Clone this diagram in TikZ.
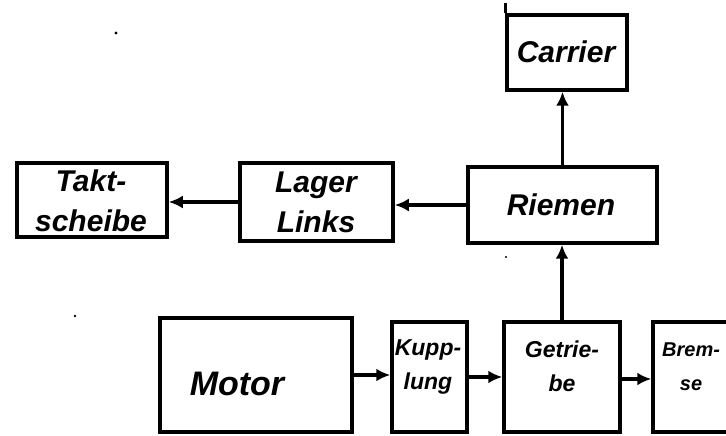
\documentclass[tikz,border=0pt]{standalone}
\usepackage{fontspec}
\setmainfont{Liberation Sans}
\usetikzlibrary{arrows.meta}
\begin{document}
\begin{tikzpicture}[x=1pt,y=1pt,
  box/.style={draw, line width=3.5pt, inner sep=0pt},
  arr/.style={line width=3.5pt, -{Latex[length=14pt,width=13pt]}},
  big/.style={font=\bfseries\itshape\fontsize{30}{40}\selectfont, align=center, inner sep=0pt},
  small/.style={font=\bfseries\itshape\fontsize{23}{34}\selectfont, align=center, inner sep=0pt}]
\useasboundingbox (0,0) rectangle (726,436);
\clip (0,0) rectangle (726,436);
\fill[white] (0,0) rectangle (726,436);
% boxes
\node[box, minimum width=120pt, minimum height=75pt] (carrier) at (567,383.5) {};
\node[box, minimum width=189pt, minimum height=76pt] (riemen) at (562.5,231) {};
\node[box, minimum width=153pt, minimum height=78pt] (lager) at (316.5,234) {};
\node[box, minimum width=150pt, minimum height=74pt] (takt) at (92,236) {};
\node[box, minimum width=192pt, minimum height=114pt] (motor) at (256,61) {};
\node[box, minimum width=75pt, minimum height=110pt] (kupp) at (429.5,59) {};
\node[box, minimum width=116pt, minimum height=110pt] (getr) at (562,59) {};
\node[box, minimum width=120pt, minimum height=110pt] (brem) at (713,59) {};
% labels
\node[big] (tcarrier) at (566,384) {Carrier};
\node[big] (triemen) at (561,231) {Riemen};
\node[big] (tlager) at (316,234) {Lager\\Links};
\node[big] (ttakt) at (91,235) {Takt-\\scheibe};
\node[big, font=\bfseries\itshape\fontsize{34}{40}\selectfont] (tmotor) at (237,52) {Motor};
\node[small] (tkupp) at (428,69) {Kupp-\\lung};
\node[small] (tgetr) at (562,70) {Getrie-\\be};
\node[small, font=\bfseries\itshape\fontsize{20}{34}\selectfont, anchor=west] (tbrem) at (662,69) {Brem-\\se};
% connectors
\draw[arr] (motor.east) -- (motor.east -| kupp.west);
\draw[arr] (kupp.east) -- (kupp.east -| getr.west);
\draw[arr] ([yshift=-2pt]getr.east) -- ([yshift=-2pt]getr.east -| brem.west);
\draw[arr] (getr.north) -- (getr.north |- riemen.south);
\draw[arr] (riemen.north) -- (riemen.north |- carrier.south);
\draw[arr] (riemen.west) -- (riemen.west -| lager.east);
\draw[arr] (lager.west) -- (lager.west -| takt.east);
% stray stroke and specks
\draw[line width=3pt] (carrier.north west) -- ++(0,10);
\fill (116,403) circle (1.6pt);
\fill (75,120) circle (1.4pt);
\fill (506,179) circle (1.2pt);
\end{tikzpicture}
\end{document}
